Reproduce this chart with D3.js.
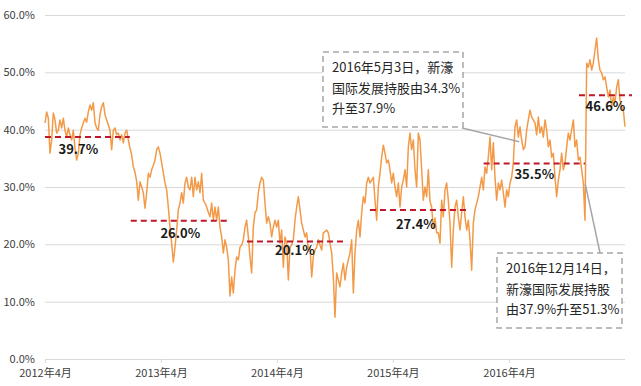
<!DOCTYPE html>
<html>
<head>
<meta charset="utf-8">
<script src="https://cdn.jsdelivr.net/npm/d3@7"></script>
<style>
  body { margin: 0; background: #fff; }
  text { font-family: "Noto Sans CJK SC", "Noto Sans", sans-serif; }
</style>
</head>
<body>
<div id="chart"></div>
<script>
// holding ratio (%), evenly spaced samples from startDate to endDate
const startDate = "2012-04-01"
const endDate = "2017-04-01"
const ratio = [
  41.2,43.1,42.0,35.9,38.2,42.9,41.7,39.4,39.9,41.7,
  40.3,42.0,39.9,38.7,40.3,39.1,38.2,39.9,36.8,34.7,
  35.9,39.1,40.3,41.2,42.0,41.3,43.1,44.3,43.4,44.7,
  41.2,40.3,39.9,42.6,44.0,44.7,42.6,41.7,40.8,39.9,
  36.5,39.9,40.3,39.1,39.4,38.2,39.1,37.7,39.4,39.9,
  38.2,36.8,35.6,33.5,32.6,31.0,27.7,30.9,30.0,29.0,
  26.3,29.0,32.4,31.7,33.0,33.8,34.7,36.5,37.0,35.9,
  34.2,32.4,30.7,29.5,26.5,23.0,20.2,16.9,19.5,22.5,
  26.0,27.2,29.0,27.2,30.7,31.7,30.0,29.5,31.7,28.3,
  31.7,29.5,30.9,29.0,32.4,27.7,27.2,26.5,25.6,24.8,
  27.2,24.2,26.5,24.2,26.5,23.0,21.3,18.5,20.8,19.5,
  17.3,11.0,14.3,11.5,15.5,17.8,17.3,19.5,19.9,20.8,
  23.0,24.2,21.3,17.8,15.0,23.0,25.5,26.0,29.0,30.7,
  31.7,31.2,27.2,23.7,24.8,23.7,21.3,23.0,24.2,23.0,
  24.2,20.2,22.5,16.0,21.3,20.2,13.8,19.5,19.9,20.8,
  24.2,26.5,28.3,26.0,23.7,22.5,21.3,22.0,19.0,19.5,
  14.3,17.8,19.0,19.5,20.8,19.9,19.0,22.0,22.2,22.5,
  22.0,20.2,18.5,14.3,7.3,15.0,13.8,12.6,15.0,16.7,
  13.8,16.0,17.3,18.5,20.8,11.5,18.5,22.5,24.2,21.3,
  25.5,28.3,27.2,30.7,31.7,30.7,31.2,31.7,27.7,24.2,
  30.0,32.4,35.2,37.3,35.9,34.2,34.7,33.0,30.7,32.4,
  30.0,28.3,30.7,26.5,30.0,31.2,33.0,30.0,37.0,39.4,
  36.5,38.2,33.0,30.0,39.4,38.2,33.0,27.7,30.0,28.3,
  33.0,27.5,26.5,22.8,24.6,22.0,22.0,20.2,27.7,24.8,
  29.5,30.7,27.7,23.7,16.0,22.5,26.5,27.7,24.8,22.5,
  25.5,28.3,24.8,22.5,24.2,20.8,15.5,23.7,26.0,27.2,
  28.3,30.0,31.7,29.5,33.5,32.4,35.2,38.7,33.0,37.7,
  31.7,27.7,30.7,29.5,31.2,29.0,26.5,29.5,28.3,30.7,
  31.7,34.2,40.5,41.7,38.7,40.5,38.2,36.5,37.0,39.9,
  41.7,43.4,42.2,41.7,41.2,39.1,42.2,39.4,40.5,38.7,
  41.7,39.9,37.0,38.2,35.2,35.9,31.7,28.3,31.2,33.0,
  35.9,33.0,34.2,37.0,39.4,38.2,40.0,41.7,37.0,38.2,
  34.7,35.2,33.0,30.7,24.2,51.6,50.9,52.2,50.4,51.6,
  53.9,56.0,52.2,50.4,49.9,48.7,49.2,47.4,45.7,46.9,
  44.0,45.7,44.7,47.4,48.7,45.2,44.0,43.4,40.5
]

const yTicks = [0, 10, 20, 30, 40, 50, 60]
const xTickDates = ["2012-04-01", "2013-04-01", "2014-04-01", "2015-04-01", "2016-04-01"]
const xTickLabels = ["2012年4月", "2013年4月", "2014年4月", "2015年4月", "2016年4月"]

// average level per period (red dashed)
const segStart = ["2012-04-01", "2012-12-27", "2013-12-28", "2015-01-19", "2016-01-12", "2016-11-07"]
const segEnd   = ["2012-12-24", "2013-11-04", "2014-11-07", "2015-11-29", "2016-11-26", "2017-04-23"]
const segLevel = [38.7, 24.1, 20.5, 26.0, 34.1, 46.0]
const segLabel = ["39.7%", "26.0%", "20.1%", "27.4%", "35.5%", "46.6%"]

// annotations
const noteDates = ["2016-05-03", "2016-11-27"]
const noteValues = [37.9, 30.5]
const noteLines = [
  ["2016年5月3日，新濠", "国际发展持股由34.3%", "升至37.9%"],
  ["2016年12月14日，", "新濠国际发展持股", "由37.9%升至51.3%"]
]

const W = 641, H = 386
const parse = d3.timeParse("%Y-%m-%d")
const t0 = parse(startDate), t1 = parse(endDate)
const data = ratio.map((v, i) => ({
  date: new Date(+t0 + i * (t1 - t0) / (ratio.length - 1)),
  value: v
}))

const svg = d3.select('#chart').append('svg')
  .attr('width', W).attr('height', H)

const x = d3.scaleTime().domain([t0, t1]).range([45, 625])
const y = d3.scaleLinear().domain([0, 60]).range([359, 15])

// gridlines + y labels
const yAxis = svg.append('g')
  .attr('transform', 'translate(45,0)')
  .call(d3.axisLeft(y).tickValues(yTicks).tickSize(-580).tickPadding(10)
    .tickFormat(d => d.toFixed(1) + '%'))
yAxis.select('.domain').remove()
yAxis.selectAll('line').attr('stroke', '#d9d9d9').attr('stroke-width', 1)
yAxis.selectAll('text').attr('fill', '#404040').style('font-size', '11px')

// x axis
const xAxis = svg.append('g')
  .attr('transform', 'translate(0,359)')
  .call(d3.axisBottom(x).tickValues(xTickDates.map(parse)).tickSize(4).tickPadding(6)
    .tickFormat((d, i) => xTickLabels[i]))
xAxis.select('.domain').remove()
xAxis.selectAll('line').attr('stroke', '#d9d9d9')
xAxis.selectAll('text').attr('fill', '#404040').style('font-size', '11px')

// ratio line
svg.append('path')
  .datum(data)
  .attr('fill', 'none')
  .attr('stroke', '#f39a48')
  .attr('stroke-width', 1.5)
  .attr('stroke-linejoin', 'round')
  .attr('d', d3.line().x(d => x(d.date)).y(d => y(d.value)))

// period averages
const segs = segLevel.map((v, i) => ({ a: parse(segStart[i]), b: parse(segEnd[i]), v: v, label: segLabel[i] }))
svg.append('g').selectAll('line').data(segs).join('line')
  .attr('x1', d => x(d.a)).attr('x2', d => x(d.b))
  .attr('y1', d => y(d.v)).attr('y2', d => y(d.v))
  .attr('stroke', '#c0182a')
  .attr('stroke-width', 2)
  .attr('stroke-dasharray', '6,4')

const labelDx = [-9, 0, -2, -4, 0, 0]
const labelDy = [17, 17, 14, 19, 16, 16]
svg.append('g').selectAll('text').data(segs).join('text')
  .attr('x', (d, i) => (x(d.a) + x(d.b)) / 2 + labelDx[i])
  .attr('y', (d, i) => y(d.v) + labelDy[i])
  .attr('text-anchor', 'middle')
  .attr('fill', '#1a1a1a')
  .style('font-size', '13px')
  .style('font-weight', 'bold')
  .text(d => d.label)

// annotation boxes (layout)
const boxes = [
  { x: 323, y: 52, w: 140, h: 75, lx: 462, ly: 128 },
  { x: 497, y: 253, w: 125, h: 75, lx: 600, ly: 253 }
]
boxes.forEach((b, i) => {
  const ax = x(parse(noteDates[i])), ay = y(noteValues[i])
  svg.append('line')
    .attr('x1', b.lx).attr('y1', b.ly).attr('x2', ax).attr('y2', ay)
    .attr('stroke', '#a6a6a6').attr('stroke-width', 1.5)
  svg.append('rect')
    .attr('x', b.x).attr('y', b.y).attr('width', b.w).attr('height', b.h)
    .attr('fill', '#fff')
    .attr('stroke', '#a6a6a6').attr('stroke-width', 1.5)
    .attr('stroke-dasharray', '6,4')
  svg.append('g').selectAll('text').data(noteLines[i]).join('text')
    .attr('x', b.x + 9)
    .attr('y', (d, j) => b.y + 20 + j * 20.5)
    .attr('fill', '#262626')
    .style('font-size', '13px')
    .text(d => d)
})
</script>
</body>
</html>
